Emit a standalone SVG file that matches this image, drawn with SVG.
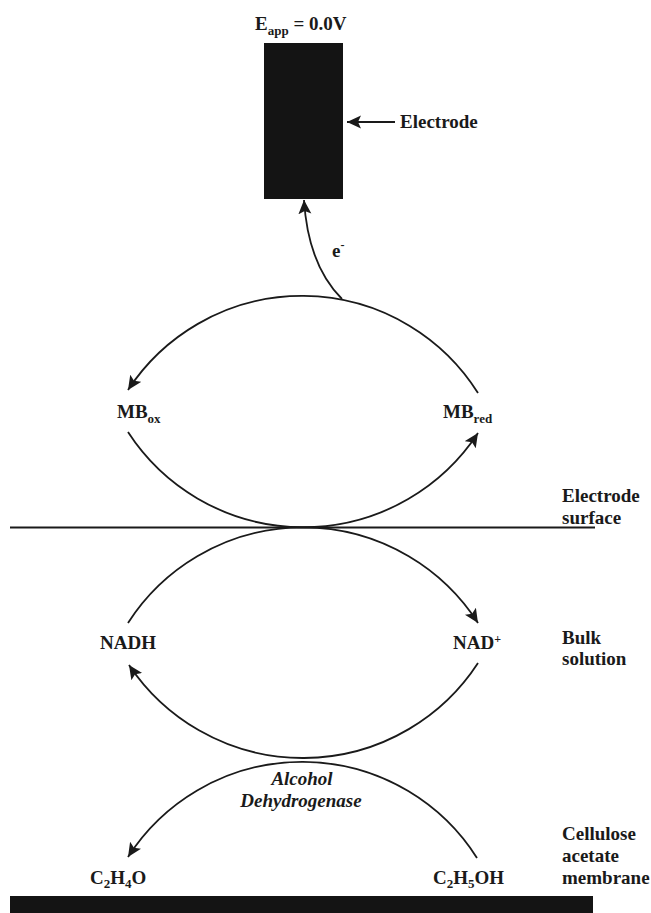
<svg xmlns="http://www.w3.org/2000/svg" width="651" height="913" viewBox="0 0 651 913">
<style>
  .t { font-family: "Liberation Serif", "Times New Roman", serif; font-weight: bold; font-size: 19px; fill: #1a1a1a; }
  .it { font-style: italic; }
  .sub { font-size: 13px; }
  .line { fill: none; stroke: #1a1a1a; stroke-width: 1.8; }
  .arr { marker-end: url(#ah); }
  .solid { fill: #141414; }
</style>
<defs>
  <marker id="ah" markerUnits="userSpaceOnUse" markerWidth="16" markerHeight="14" refX="14" refY="6.5" orient="auto">
    <path d="M0,0 L14,6.5 L0,13 L3,6.5 z" fill="#1a1a1a"/>
  </marker>
</defs>
<rect width="651" height="913" fill="#ffffff"/>

<g id="electrode">
  <rect class="solid" x="264" y="43" width="79" height="156"/>
  <text class="t" x="255" y="30">E<tspan class="sub" dy="5">app</tspan><tspan dy="-5"> = 0.0V</tspan></text>
</g>
<g id="electrode-label">
  <text class="t" x="400" y="128">Electrode</text>
</g>
<g id="mb-ox">
  <text class="t" x="117" y="418">MB<tspan class="sub" dy="5">ox</tspan></text>
</g>
<g id="mb-red">
  <text class="t" x="443" y="418">MB<tspan class="sub" dy="5">red</tspan></text>
</g>
<g id="surface-line">
  <line class="line" x1="10" y1="527.5" x2="595" y2="527.5"/>
  <text class="t" x="562" y="502">Electrode</text>
  <text class="t" x="562" y="524">surface</text>
</g>
<g id="nadh">
  <text class="t" x="100" y="649">NADH</text>
</g>
<g id="nad-plus">
  <text class="t" x="453" y="649">NAD<tspan style="font-size:12px" dy="-6">+</tspan></text>
</g>
<g id="bulk-label">
  <text class="t" x="562" y="644">Bulk</text>
  <text class="t" x="562" y="665">solution</text>
</g>
<g id="enzyme">
  <text class="t it" x="302" y="785" text-anchor="middle">Alcohol</text>
  <text class="t it" x="301" y="807" text-anchor="middle">Dehydrogenase</text>
</g>
<g id="acetaldehyde">
  <text class="t" x="90" y="884">C<tspan class="sub" dy="4">2</tspan><tspan dy="-4">H</tspan><tspan class="sub" dy="4">4</tspan><tspan dy="-4">O</tspan></text>
</g>
<g id="ethanol">
  <text class="t" x="433" y="884">C<tspan class="sub" dy="4">2</tspan><tspan dy="-4">H</tspan><tspan class="sub" dy="4">5</tspan><tspan dy="-4">OH</tspan></text>
</g>
<g id="membrane">
  <rect class="solid" x="10" y="896" width="583" height="17"/>
  <text class="t" x="562" y="840">Cellulose</text>
  <text class="t" x="562" y="862">acetate</text>
  <text class="t" x="562" y="884">membrane</text>
</g>

<g id="connectors">
  <line class="line arr" x1="395" y1="122" x2="347" y2="122"/>
  <path class="line arr" d="M342,299 Q308,265 304,200"/>
  <text class="t" x="332" y="257">e<tspan style="font-size:12px" dy="-8">-</tspan></text>
  <path class="line arr" d="M478,393 A208,208 0 0 0 128,390"/>
  <path class="line arr" d="M128,432 A209,209 0 0 0 478,433"/>
  <path class="line arr" d="M128,623 A208,208 0 0 1 478,623"/>
  <path class="line arr" d="M478,663 A209,209 0 0 1 129,665"/>
  <path class="line arr" d="M477,858 A207,207 0 0 0 128,857"/>
</g>
</svg>
